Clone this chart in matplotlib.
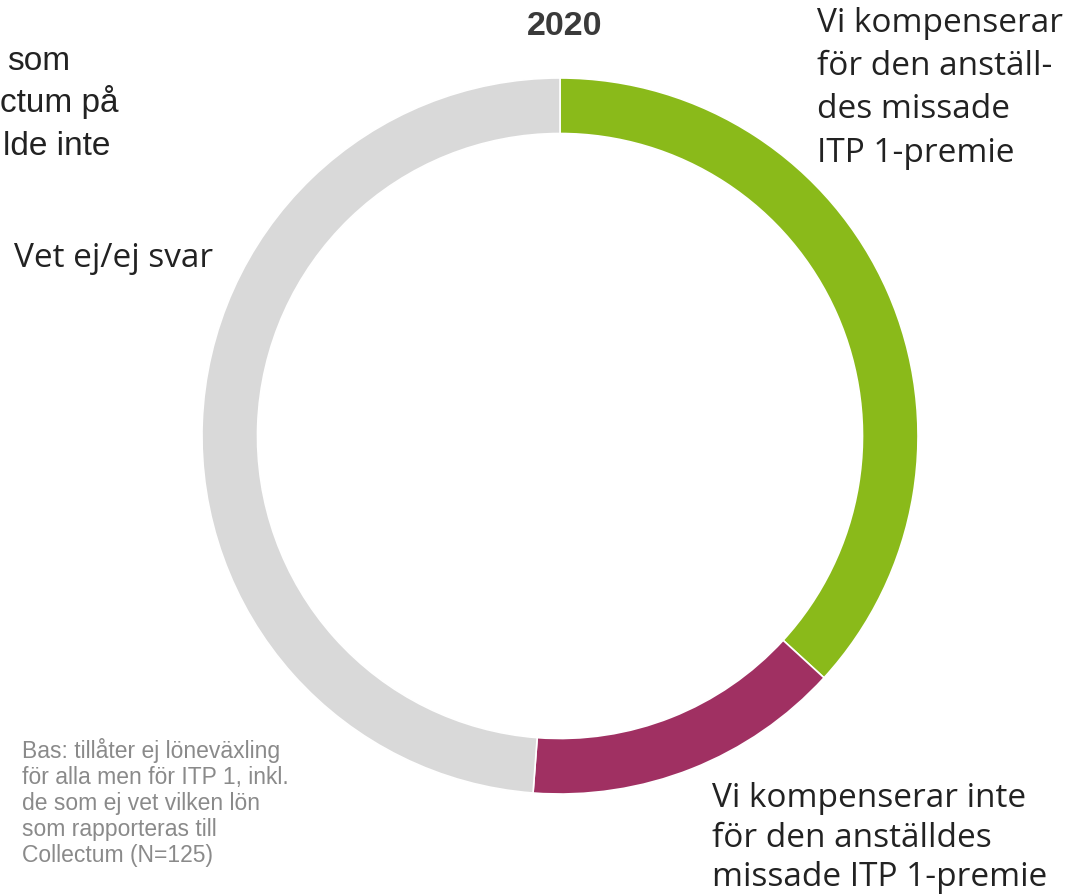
import matplotlib.pyplot as plt

W, H = 1069, 896

# share of answers (N=125)
labels = ["Vi kompenserar\nför den anställ-\ndes missade\nITP 1-premie",
          "Vi kompenserar inte\nför den anställdes\nmissade ITP 1-premie",
          "Vet ej/ej svar"]
counts = [46, 18, 61]
colors = ["#8aba1a", "#a03062", "#d9d9d9"]

title = "2020"
note = ("Bas: tillåter ej löneväxling\nför alla men för ITP 1, inkl.\n"
        "de som ej vet vilken lön\nsom rapporteras till\nCollectum (N=125)")
cut_lines = ["som", "ctum på", "lde inte"]

fig = plt.figure(figsize=(W / 100, H / 100), dpi=100)

cx, cy, r = 560, 436, 358
ax = fig.add_axes([(cx - r) / W, (H - cy - r) / H, 2 * r / W, 2 * r / H])
ax.pie(counts, colors=colors, startangle=90, counterclock=False, radius=1,
       wedgeprops=dict(width=0.155, edgecolor="white", linewidth=1.2))
ax.set_xlim(-1, 1)
ax.set_ylim(-1, 1)
ax.set_aspect("equal")
ax.axis("off")

def px(x, y):
    return x / W, 1 - y / H

lab_font = "Open Sans"
fig.text(*px(565, 35), title, ha="center", va="baseline", fontsize=24.5,
         fontweight="bold", color="#3a3a3a", family="Liberation Sans")
fig.text(*px(817, 7), labels[0], ha="left", va="top", fontsize=24,
         color="#222222", family=lab_font, linespacing=1.41)
fig.text(*px(712, 782), labels[1], ha="left", va="top", fontsize=24,
         color="#222222", family=lab_font, linespacing=1.27)
fig.text(*px(14, 258), labels[2], ha="left", va="center", fontsize=24,
         color="#222222", family=lab_font)

fig.text(*px(22, 738), note, ha="left", va="top", fontsize=16.5,
         color="#8a8a8a", family="Liberation Sans", linespacing=1.16)

for x, y, s in zip([7, 0, 3], [70, 112, 155], cut_lines):
    fig.text(*px(x, y), s, ha="left", va="baseline", fontsize=24,
             color="#222222", family="Liberation Sans")

fig.savefig("out.png", dpi=100)
